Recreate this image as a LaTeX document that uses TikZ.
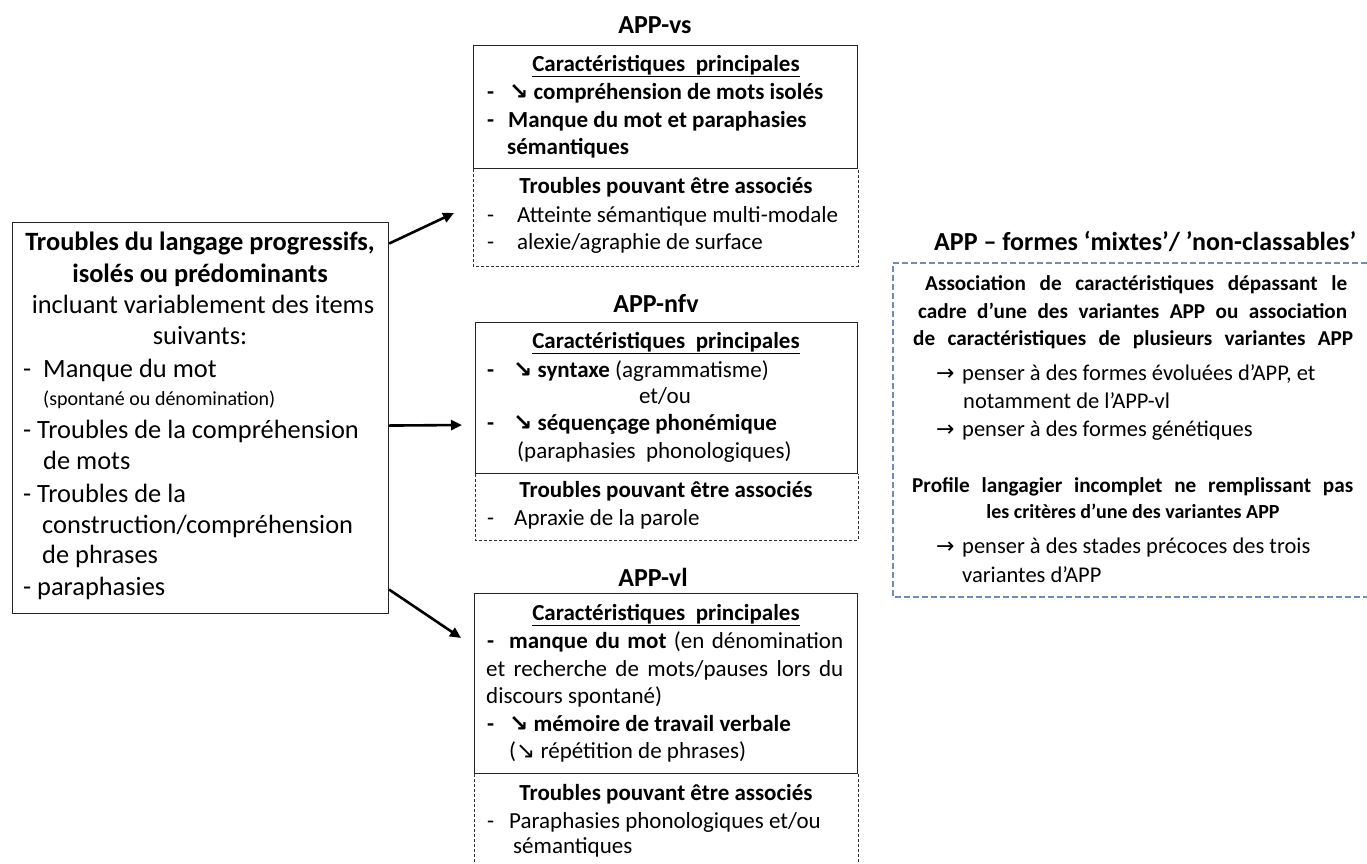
\documentclass[tikz,border=0pt]{standalone}
\usepackage{fontspec}
\setmainfont{Carlito}
\newfontfamily\symf{DejaVu Sans}
\usetikzlibrary{arrows.meta}
\newcommand{\dn}{{\symf\char"2198}}
\newcommand{\ra}{{\symf\fontsize{22}{27}\selectfont\char"2192}}
\begin{document}
\begin{tikzpicture}[x=1pt,y=-1pt,
  frame/.style={draw=black!85, line width=1.1pt, anchor=north west, inner sep=0pt},
  dashedside/.style={draw=black!80, line width=0.9pt, dash pattern=on 3pt off 2pt},
  panel/.style={draw={rgb,255:red,110;green,140;blue,180}, line width=1.1pt, dash pattern=on 6pt off 3pt},
  conn/.style={line width=2.6pt, -{Triangle[length=11pt,width=10pt]}},
  fL/.style={font=\fontsize{26.4}{30}\selectfont},
  fLb/.style={font=\fontsize{26.4}{30}\selectfont\bfseries},
  fM/.style={font=\fontsize{23}{27}\selectfont},
  fMb/.style={font=\fontsize{23}{27}\selectfont\bfseries},
  fS/.style={font=\fontsize{20}{24}\selectfont},
  fT/.style={font=\fontsize{26}{30}\selectfont\bfseries},
  fR/.style={font=\fontsize{22.5}{27}\selectfont},
  fRb/.style={font=\fontsize{21.2}{24}\selectfont\bfseries},
  lw/.style={anchor=base west, inner sep=0pt},
  lc/.style={anchor=base, inner sep=0pt}]
\useasboundingbox (0,0) rectangle (1367,863);

% ---------- left box ----------
\node[frame, minimum width=376pt, minimum height=391pt] (left) at (12,222) {};
\node[lc,fLb] (l1) at (200,250) {Troubles du langage progressifs,};
\node[lc,fLb] (l2) at (200,282) {isolés ou prédominants};
\node[lc,fL] (l3) at (203,313) {incluant variablement des items};
\node[lc,fL] (l4) at (200,344) {suivants:};
\node[lw,fL] (l5) at (23,377) {\makebox[20pt][l]{-}Manque du mot};
\node[lw,fS] (l6) at (43,405) {(spontané ou dénomination)};
\node[lw,fL] (l7) at (23,438) {\makebox[14pt][l]{-}Troubles de la compréhension};
\node[lw,fL] (l8) at (43,469) {de mots};
\node[lw,fL] (l9) at (23,502) {\makebox[14pt][l]{-}Troubles de la};
\node[lw,fL] (l10) at (42,533) {construction/compréhension};
\node[lw,fL] (l11) at (42,563) {de phrases};
\node[lw,fL] (l12) at (23,595) {\makebox[14pt][l]{-}paraphasies};

% ---------- APP-vs ----------
\node[lc,fT] (tvs) at (655,33) {APP-vs};
\node[frame, minimum width=384pt, minimum height=123pt] (vs) at (473,45) {};
\draw[dashedside] (vs.south west) -- ++(0,97) coordinate (vsa) -- (vsa -| vs.south east) -- (vs.south east);
\node[lc,fMb] (vs1) at (666,71) {\underline{Caractéristiques\ \ principales}};
\node[lw,fMb] (vs2) at (487,99) {\makebox[22pt][l]{-}\dn\ compréhension\ de\ mots\ isolés};
\node[lw,fMb] (vs3) at (487,127) {\makebox[21pt][l]{-}Manque\ du\ mot\ et\ paraphasies};
\node[lw,fMb] (vs4) at (507,154) {sémantiques};
\node[lc,fMb] (vs5) at (666,193) {Troubles\ pouvant\ être\ associés};
\node[lw,fM] (vs6) at (487,222) {\makebox[30pt][l]{-}Atteinte sémantique multi-modale};
\node[lw,fM] (vs7) at (487,249) {\makebox[30pt][l]{-}alexie/agraphie de surface};

% ---------- APP-nfv ----------
\node[lc,fT] (tnfv) at (656,312) {APP-nfv};
\node[frame, minimum width=382pt, minimum height=151pt] (nfv) at (475,322) {};
\draw[dashedside] (nfv.south west) -- ++(0,66) coordinate (nfva) -- (nfva -| nfv.south east) -- (nfv.south east);
\node[lc,fMb] (n1) at (666,348) {\underline{Caractéristiques\ \ principales}};
\node[lw,fM] (n2) at (487,377) {\textbf{\makebox[26pt][l]{-}\dn\ syntaxe} (agrammatisme)};
\node[lc,fM] (n3) at (665,403) {et/ou};
\node[lw,fMb] (n4) at (487,430) {\makebox[26pt][l]{-}\dn\ séquençage phonémique};
\node[lw,fM] (n5) at (517,458) {(paraphasies\ \ phonologiques)};
\node[lc,fMb] (n6) at (666,497) {Troubles\ pouvant\ être\ associés};
\node[lw,fM] (n7) at (487,525) {\makebox[27pt][l]{-}Apraxie de la parole};

% ---------- APP-vl ----------
\node[lc,fT] (tvl) at (653,586) {APP-vl};
\node[frame, minimum width=383pt, minimum height=180pt] (vl) at (474,593) {};
\draw[dashedside] (vl.south west) -- ++(0,92);
\draw[dashedside] (vl.south east) -- ++(0,92);
\node[lc,fMb] (v1) at (666,620) {\underline{Caractéristiques\ \ principales}};
\node[lw,fM] (v2) at (487,648) {\makebox[356pt][s]{\textbf{-\ \ manque du mot} (en dénomination}};
\node[lw,fM] (v3) at (486,676) {\makebox[357pt][s]{et recherche de mots/pauses lors du}};
\node[lw,fM] (v4) at (486,703) {discours spontané)};
\node[lw,fMb] (v5) at (487,731) {\makebox[22pt][l]{-}\dn\ mémoire de travail verbale};
\node[lw,fM] (v6) at (509,758) {(\dn\ répétition de phrases)};
\node[lc,fMb] (v7) at (666,800) {Troubles\ pouvant\ être\ associés};
\node[lw,fM] (v8) at (487,828) {\makebox[22pt][l]{-}Paraphasies phonologiques et/ou};
\node[lw,fM] (v9) at (513,853) {sémantiques};

% ---------- right panel ----------
\node[lw,fT] (tr) at (934,250) {APP – formes ‘mixtes’/ ’non-classables’};
\coordinate (pa) at (1367,263);
\coordinate (pb) at (893,263);
\coordinate (pc) at (893,597);
\coordinate (pd) at (1367,597);
\draw[panel] (pa) -- (pb) -- (pc) -- (pd);
\node[lw,fRb] (r1) at (925,290) {\makebox[422pt][s]{Association de caractéristiques dépassant le}};
\node[lw,fRb] (r2) at (918,318) {\makebox[429pt][s]{cadre d’une des variantes APP ou association}};
\node[lw,fRb] (r3) at (913,345) {\makebox[440pt][s]{de caractéristiques de plusieurs variantes APP}};
\node[lw,fR] (r4) at (936,380) {\makebox[26pt][l]{\ra}penser à des formes évoluées d’APP, et};
\node[lw,fR] (r5) at (963,408) {notamment de l’APP-vl};
\node[lw,fR] (r6) at (936,436) {\makebox[26pt][l]{\ra}penser à des formes génétiques};
\node[lw,fRb] (r7) at (912,492) {\makebox[441pt][s]{Profile langagier incomplet ne remplissant pas}};
\node[lc,fRb,font=\fontsize{20}{24}\selectfont\bfseries] (r8) at (1133,518) {les critères d’une des variantes APP};
\node[lw,fR] (r9) at (936,553) {\makebox[26pt][l]{\ra}penser à des stades précoces des trois};
\node[lw,fR] (r10) at (962,582) {variantes d’APP};

% ---------- connectors ----------
\coordinate (e1) at (454,213);
\coordinate (e2) at (462,425);
\coordinate (e3) at (461,638);
\draw[conn] ([yshift=174.5pt]left.east) -- (e1);
\draw[conn] ([yshift=-7.5pt]left.east) -- (e2);
\draw[conn] ([yshift=-171.5pt]left.east) -- (e3);
\end{tikzpicture}
\end{document}
